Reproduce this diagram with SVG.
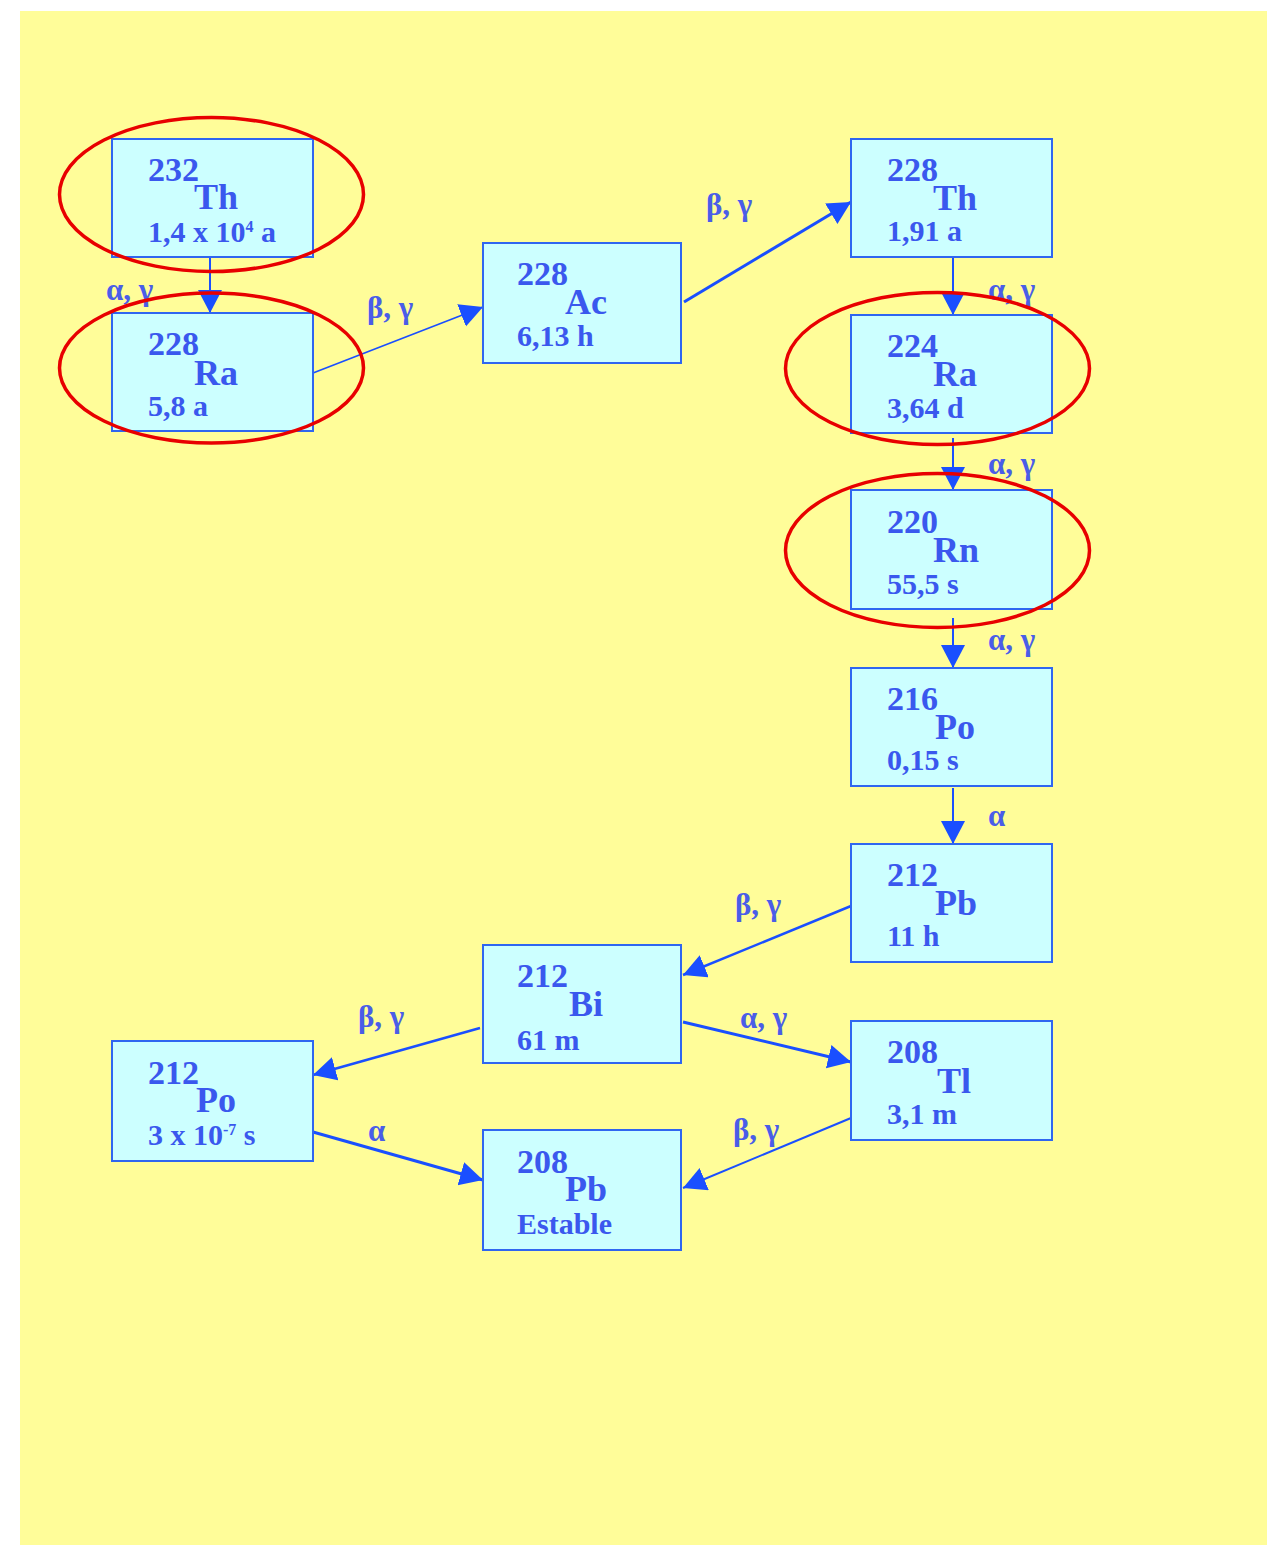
<svg xmlns="http://www.w3.org/2000/svg" width="1267" height="1545" viewBox="0 0 1267 1545">
  <style>
    .box { fill: #ccffff; stroke: #2f66f0; stroke-width: 2; }
    .t { font-family: "Liberation Serif", "Times New Roman", serif; font-weight: bold; fill: #3a58ee; }
    .mass { font-size: 34px; }
    .sym { font-size: 36px; }
    .life { font-size: 30px; }
    .sup { font-size: 16px; }
    .lbl { font-family: "Liberation Serif", "Times New Roman", serif; font-weight: bold; font-size: 31px; fill: #4a5de8; }
    .arr { stroke: #1a4fff; fill: none; marker-end: url(#head); }
    .ring { fill: none; stroke: #e80000; stroke-width: 3.5; }
  </style>
  <defs>
    <marker id="head" markerUnits="userSpaceOnUse" markerWidth="26" markerHeight="26" refX="23" refY="12" orient="auto">
      <path d="M0,0 L23,12 L0,24 z" fill="#1a4fff"/>
    </marker>
  </defs>

  <!-- page background -->
  <rect x="20" y="11" width="1247" height="1534" fill="#fffd99"/>

  <!-- decay connectors -->
  <g id="connectors">
    <line class="arr" x1="210" y1="257" x2="210" y2="313" stroke-width="2"/>
    <line class="arr" x1="313" y1="373" x2="483" y2="307" stroke-width="1.6"/>
    <line class="arr" x1="684" y1="302" x2="851" y2="202" stroke-width="3"/>
    <line class="arr" x1="953" y1="257" x2="953" y2="315" stroke-width="2"/>
    <line class="arr" x1="953" y1="438" x2="953" y2="490" stroke-width="2"/>
    <line class="arr" x1="953" y1="618" x2="953" y2="668" stroke-width="2"/>
    <line class="arr" x1="953" y1="788" x2="953" y2="844" stroke-width="2"/>
    <line class="arr" x1="851" y1="906" x2="683" y2="975" stroke-width="2.5"/>
    <line class="arr" x1="683" y1="1022" x2="851" y2="1062" stroke-width="3"/>
    <line class="arr" x1="480" y1="1028" x2="313" y2="1075" stroke-width="2.5"/>
    <line class="arr" x1="313" y1="1132" x2="483" y2="1180" stroke-width="3"/>
    <line class="arr" x1="851" y1="1118" x2="683" y2="1188" stroke-width="2"/>

    <text class="lbl" x="106" y="300">α, γ</text>
    <text class="lbl" x="367" y="318">β, γ</text>
    <text class="lbl" x="706" y="215">β, γ</text>
    <text class="lbl" x="988" y="300">α, γ</text>
    <text class="lbl" x="988" y="474">α, γ</text>
    <text class="lbl" x="988" y="650">α, γ</text>
    <text class="lbl" x="988" y="826">α</text>
    <text class="lbl" x="735" y="915">β, γ</text>
    <text class="lbl" x="740" y="1028">α, γ</text>
    <text class="lbl" x="358" y="1027">β, γ</text>
    <text class="lbl" x="368" y="1141">α</text>
    <text class="lbl" x="733" y="1140">β, γ</text>
  </g>

  <!-- nuclides -->
  <g id="th232">
    <rect class="box" x="112" y="139" width="201" height="118"/>
    <text class="t mass" x="148" y="181">232</text>
    <text class="t sym" x="194" y="209">Th</text>
    <text class="t life" x="148" y="242">1,4 x 10<tspan class="sup" dy="-10">4</tspan><tspan dy="10"> a</tspan></text>
  </g>
  <g id="ra228">
    <rect class="box" x="112" y="313" width="201" height="118"/>
    <text class="t mass" x="148" y="355">228</text>
    <text class="t sym" x="194" y="385">Ra</text>
    <text class="t life" x="148" y="416">5,8 a</text>
  </g>
  <g id="ac228">
    <rect class="box" x="483" y="243" width="198" height="120"/>
    <text class="t mass" x="517" y="285">228</text>
    <text class="t sym" x="565" y="314">Ac</text>
    <text class="t life" x="517" y="346">6,13 h</text>
  </g>
  <g id="th228">
    <rect class="box" x="851" y="139" width="201" height="118"/>
    <text class="t mass" x="887" y="181">228</text>
    <text class="t sym" x="933" y="210">Th</text>
    <text class="t life" x="887" y="241">1,91 a</text>
  </g>
  <g id="ra224">
    <rect class="box" x="851" y="315" width="201" height="118"/>
    <text class="t mass" x="887" y="357">224</text>
    <text class="t sym" x="933" y="386">Ra</text>
    <text class="t life" x="887" y="418">3,64 d</text>
  </g>
  <g id="rn220">
    <rect class="box" x="851" y="490" width="201" height="119"/>
    <text class="t mass" x="887" y="533">220</text>
    <text class="t sym" x="933" y="562">Rn</text>
    <text class="t life" x="887" y="594">55,5 s</text>
  </g>
  <g id="po216">
    <rect class="box" x="851" y="668" width="201" height="118"/>
    <text class="t mass" x="887" y="710">216</text>
    <text class="t sym" x="935" y="739">Po</text>
    <text class="t life" x="887" y="770">0,15 s</text>
  </g>
  <g id="pb212">
    <rect class="box" x="851" y="844" width="201" height="118"/>
    <text class="t mass" x="887" y="886">212</text>
    <text class="t sym" x="935" y="915">Pb</text>
    <text class="t life" x="887" y="946">11 h</text>
  </g>
  <g id="bi212">
    <rect class="box" x="483" y="945" width="198" height="118"/>
    <text class="t mass" x="517" y="987">212</text>
    <text class="t sym" x="569" y="1016">Bi</text>
    <text class="t life" x="517" y="1050">61 m</text>
  </g>
  <g id="tl208">
    <rect class="box" x="851" y="1021" width="201" height="119"/>
    <text class="t mass" x="887" y="1063">208</text>
    <text class="t sym" x="937" y="1093">Tl</text>
    <text class="t life" x="887" y="1124">3,1 m</text>
  </g>
  <g id="po212">
    <rect class="box" x="112" y="1041" width="201" height="120"/>
    <text class="t mass" x="148" y="1084">212</text>
    <text class="t sym" x="196" y="1112">Po</text>
    <text class="t life" x="148" y="1145">3 x 10<tspan class="sup" dy="-10">-7</tspan><tspan dy="10"> s</tspan></text>
  </g>
  <g id="pb208">
    <rect class="box" x="483" y="1130" width="198" height="120"/>
    <text class="t mass" x="517" y="1173">208</text>
    <text class="t sym" x="565" y="1201">Pb</text>
    <text class="t life" x="517" y="1234">Estable</text>
  </g>

  <!-- highlight rings -->
  <g id="rings">
    <ellipse class="ring" cx="211.5" cy="194.5" rx="152" ry="77"/>
    <ellipse class="ring" cx="211.5" cy="368" rx="152" ry="75"/>
    <ellipse class="ring" cx="937.5" cy="368.5" rx="152" ry="76"/>
    <ellipse class="ring" cx="937.5" cy="550.5" rx="152" ry="77"/>
  </g>
</svg>
